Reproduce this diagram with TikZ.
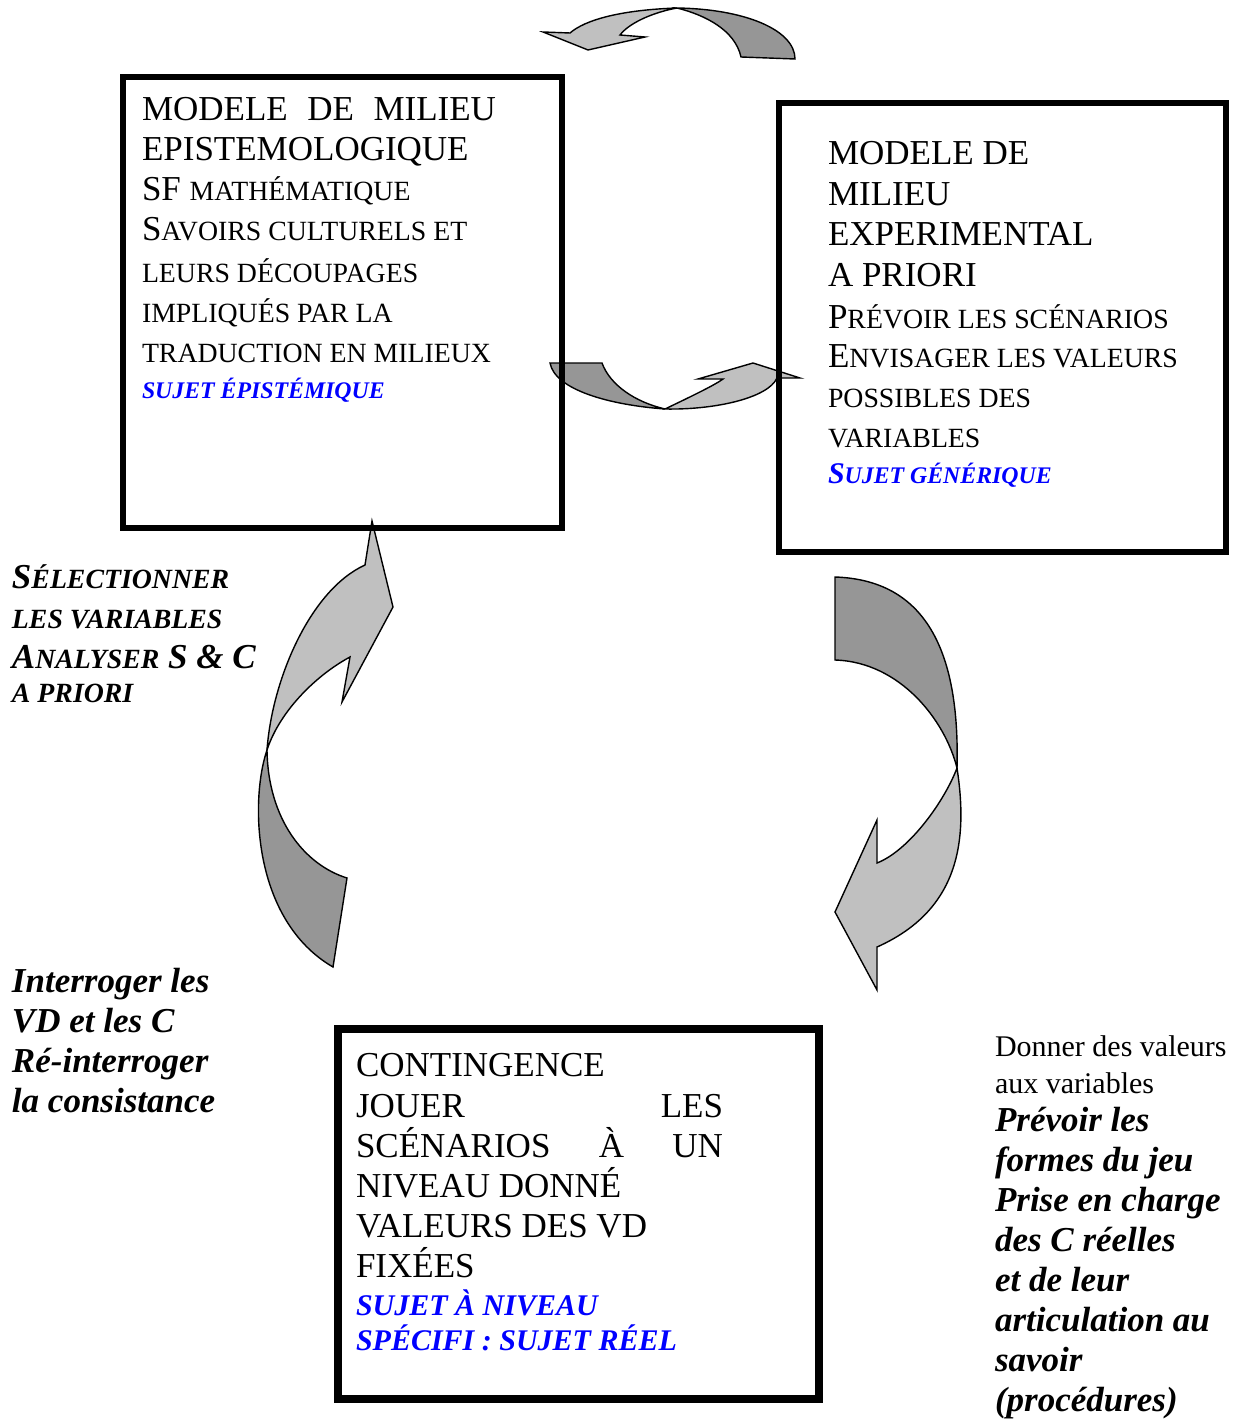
\documentclass[tikz,border=0pt]{standalone}
\usepackage{fontspec}
\setmainfont{Liberation Serif}
\definecolor{dk}{RGB}{150,150,150}
\definecolor{lt}{RGB}{192,192,192}
\definecolor{bl}{RGB}{0,0,255}
\newcommand\fA{\fontsize{35}{40}\selectfont}
\newcommand\fS{\fontsize{27.8}{40}\selectfont}
\newcommand\fB{\fontsize{30}{36}\selectfont}
\newcommand\fBs{\fontsize{23.8}{36}\selectfont}
\begin{document}
\begin{tikzpicture}[x=1pt,y=-1pt,
  ln/.style={anchor=base west, inner sep=0pt, outer sep=0pt, font=\fA},
  blu/.style={ln, text=bl, font=\fB\bfseries\itshape},
  bi/.style={ln, font=\fA\bfseries\itshape},
  rg/.style={ln, font=\fB},
  box/.style={draw, line width=6pt, inner sep=0pt, outer sep=0pt},
  rib/.style={draw, line width=1.4pt, line join=miter},
]
\useasboundingbox (0,0) rectangle (1238,1423);

% ---- top arrow (pointing left)
\path[rib, fill=dk] (741,57) -- (795,59) .. controls (795,30) and (745,9) .. (677,8)
  .. controls (705,15) and (735,30) .. (741,57) -- cycle;
\path[rib, fill=lt] (677,8) .. controls (620,10) and (585,20) .. (570,33) -- (543,32) -- (588,50)
  -- (645,37) -- (620,35) .. controls (630,22) and (655,12) .. (677,8) -- cycle;

% ---- middle arrow (pointing right)
\path[rib, fill=dk] (550,363) -- (602,363) .. controls (610,385) and (635,402) .. (665,409)
  .. controls (610,405) and (555,390) .. (550,363) -- cycle;
\path[rib, fill=lt] (665,409) .. controls (690,397) and (715,385) .. (723,379) -- (698,379)
  -- (753,363) -- (800,378) -- (777,378) .. controls (768,398) and (715,410) .. (665,409) -- cycle;

% ---- left arrow (pointing up)
\path[rib, fill=lt] (267,750) .. controls (272,680) and (310,590) .. (365,565) -- (372,521)
  -- (393,607) -- (342,702) -- (350,657) .. controls (318,674) and (280,710) .. (267,750) -- cycle;
\path[rib, fill=dk] (267,750) .. controls (250,800) and (252,920) .. (333,967) -- (347,878)
  .. controls (305,865) and (268,820) .. (267,750) -- cycle;

% ---- right arrow (pointing down)
\path[rib, fill=dk] (835,577) .. controls (925,580) and (960,650) .. (957,768)
  .. controls (945,720) and (900,662) .. (835,660) -- cycle;
\path[rib, fill=lt] (957,768) .. controls (968,840) and (960,910) .. (877,947) -- (877,990)
  -- (835,912) -- (877,820) -- (877,863) .. controls (910,850) and (945,800) .. (957,768) -- cycle;

% ---- boxes
\node[box, minimum width=439pt, minimum height=451pt] (b1) at (342.5,302.5) {};
\node[box, minimum width=447pt, minimum height=449pt] (b2) at (1002.5,327.5) {};
\node[box, line width=7.5pt, minimum width=481pt, minimum height=370pt] (b3) at (578.5,1214) {};

% ---- box 1 text
\node[ln] (a1) at (142,121) {\hbox to 354pt{MODELE\hfill DE\hfill MILIEU}};
\node[ln] (a2) at (142,161) {EPISTEMOLOGIQUE};
\node[ln] (a3) at (142,201) {SF {\fS MATHÉMATIQUE}};
\node[ln] (a4) at (142,241) {S{\fS AVOIRS CULTURELS ET}};
\node[ln] (a5) at (142,282) {\fS LEURS DÉCOUPAGES};
\node[ln] (a6) at (142,322) {\fS IMPLIQUÉS PAR LA};
\node[ln] (a7) at (142,362) {\fS TRADUCTION EN MILIEUX};
\node[blu] (a8) at (142,398) {\fBs SUJET ÉPISTÉMIQUE};

% ---- box 2 text
\node[ln] (c1) at (828,165) {MODELE DE};
\node[ln] (c2) at (828,206) {MILIEU};
\node[ln] (c3) at (828,246) {EXPERIMENTAL};
\node[ln] (c4) at (828,286) {A PRIORI};
\node[ln] (c5) at (828,328) {P{\fS RÉVOIR LES SCÉNARIOS}};
\node[ln] (c6) at (828,367) {E{\fS NVISAGER LES VALEURS}};
\node[ln] (c7) at (828,407) {\fS POSSIBLES DES};
\node[ln] (c8) at (828,447) {\fS VARIABLES};
\node[blu] (c9) at (828,483) {S{\fBs UJET GÉNÉRIQUE}};

% ---- box 3 text
\node[ln] (d1) at (356,1076) {CONTINGENCE};
\node[ln] (d2) at (356,1117) {\hbox to 367pt{JOUER\hfill LES}};
\node[ln] (d3) at (356,1157) {\hbox to 367pt{SCÉNARIOS\hfill À\hfill UN}};
\node[ln] (d4) at (356,1197) {NIVEAU DONNÉ};
\node[ln] (d5) at (356,1237) {VALEURS DES VD};
\node[ln] (d6) at (356,1277) {FIXÉES};
\node[blu] (d7) at (356,1315) {SUJET À NIVEAU};
\node[blu] (d8) at (356,1350) {SPÉCIFI : SUJET RÉEL};

% ---- left texts
\node[bi] (e1) at (12,588) {S{\fS ÉLECTIONNER}};
\node[bi] (e2) at (12,628) {\fS LES VARIABLES};
\node[bi] (e3) at (12,668) {A{\fS NALYSER} S \& C};
\node[bi] (e4) at (12,702) {\fS A PRIORI};

\node[bi] (f1) at (12,992) {Interroger les};
\node[bi] (f2) at (12,1032) {VD et les C};
\node[bi] (f3) at (12,1072) {Ré-interroger};
\node[bi] (f4) at (12,1112) {la consistance};

% ---- right bottom texts
\node[rg] (g1) at (995,1056) {Donner des valeurs};
\node[rg] (g2) at (995,1093) {aux variables};
\node[bi] (g3) at (995,1131) {Prévoir les};
\node[bi] (g4) at (995,1171) {formes du jeu};
\node[bi] (g5) at (995,1211) {Prise en charge};
\node[bi] (g6) at (995,1251) {des C réelles};
\node[bi] (g7) at (995,1291) {et de leur};
\node[bi] (g8) at (995,1331) {articulation au};
\node[bi] (g9) at (995,1371) {savoir};
\node[bi] (g10) at (995,1411) {(procédures)};
\end{tikzpicture}
\end{document}
